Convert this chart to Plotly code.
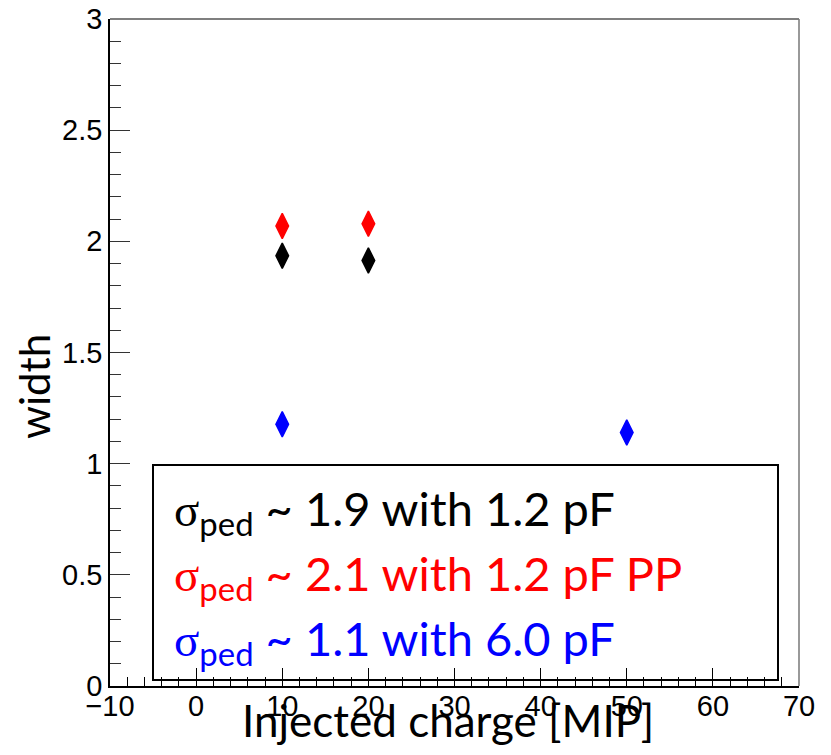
import plotly.graph_objects as go

# ---- data ----
x_black = [10, 20]
y_black = [1.935, 1.914]
x_red = [10, 20]
y_red = [2.069, 2.079]
x_blue = [10, 50]
y_blue = [1.177, 1.140]

series_colors = ["black", "red", "blue"]
legend_values = ["1.9", "2.1", "1.1"]
legend_caps = ["1.2 pF", "1.2 pF PP", "6.0 pF"]

x_title = "Injected charge [MIP]"
y_title = "width"

# page geometry (browser body has an 8px margin on every side)
OFF = 8
PAGE_W, PAGE_H = 831, 755
X0, X1, Y0, Y1 = 110, 799, 19, 686      # plot area in page pixels
W, H = PAGE_W - 2 * OFF, PAGE_H - 2 * OFF
L, T = X0 - OFF, Y0 - OFF
R, B = W - (X1 - OFF), H - (Y1 - OFF)
PW, PH = X1 - X0, Y1 - Y0


def px(xp):
    return (xp - X0) / PW


def py(yp):
    return (Y1 - yp) / PH


fig = go.Figure()
for xs, ys, c in [(x_black, y_black, "black"), (x_red, y_red, "red"), (x_blue, y_blue, "blue")]:
    fig.add_trace(go.Scatter(
        x=xs, y=ys, mode="markers",
        marker=dict(symbol="diamond-tall", size=18, color=c,
                    line=dict(color=c, width=1.5)),
        showlegend=False, hoverinfo="skip"))

TF = "Lato, Calibri, Carlito, 'Open Sans', sans-serif"
NF = "'Liberation Sans Narrow', 'Liberation Sans', Arial, sans-serif"

fig.update_layout(
    width=W, height=H,
    margin=dict(l=L, r=R, t=T, b=B, pad=0, autoexpand=False),
    paper_bgcolor="white", plot_bgcolor="white",
    xaxis=dict(range=[-10, 70], dtick=10, tick0=0, showgrid=False, zeroline=False,
               automargin=False,
               showline=True, linecolor="black", linewidth=2,
               ticks="inside", ticklen=18, tickwidth=1, tickcolor="black",
               minor=dict(dtick=2, ticks="inside", ticklen=9, tickwidth=1,
                          tickcolor="black", showgrid=False),
               ticklabelstandoff=-7, ticklabeloverflow="allow",
               tickfont=dict(family=NF, size=29, color="black")),
    yaxis=dict(range=[0, 3], dtick=0.5, tick0=0, showgrid=False, zeroline=False,
               automargin=False,
               showline=True, linecolor="black", linewidth=1.5,
               ticks="inside", ticklen=20, tickwidth=1, tickcolor="#333",
               minor=dict(dtick=0.1, ticks="inside", ticklen=11, tickwidth=1,
                          tickcolor="#333", showgrid=False),
               ticklabeloverflow="allow",
               tickfont=dict(family=NF, size=29, color="black")),
)

# frame (top and right)
fig.add_shape(type="line", xref="paper", yref="paper", x0=0, x1=1, y0=1, y1=1,
              line=dict(color="black", width=1.2))
fig.add_shape(type="line", xref="paper", yref="paper", x0=1, x1=1, y0=0, y1=1,
              line=dict(color="#777", width=1.5))

# legend box
fig.add_shape(type="rect", xref="paper", yref="paper", layer="below",
              x0=px(153), x1=px(778), y0=py(680), y1=py(465),
              line=dict(color="black", width=2), fillcolor="white")

SIG = "<span style=\"font-family:'Liberation Serif', 'DejaVu Serif', serif\">σ</span>"
line_y = [511, 576, 641]
for c, v, cap, yy in zip(series_colors, legend_values, legend_caps, line_y):
    fig.add_annotation(xref="paper", yref="paper", x=px(172), y=py(yy),
                       xanchor="left", yanchor="middle", showarrow=False,
                       text=f"{SIG}<sub>ped</sub> ~ {v} with {cap}",
                       font=dict(family=TF, size=47, color=c))

fig.add_annotation(xref="paper", yref="paper", x=px(448), y=py(720),
                   xanchor="center", yanchor="middle", showarrow=False,
                   text=x_title, font=dict(family=TF, size=44, color="black"))
fig.add_annotation(xref="paper", yref="paper", x=px(34), y=py(387),
                   xanchor="center", yanchor="middle", showarrow=False, textangle=-90,
                   text=y_title, font=dict(family=TF, size=42, color="black"))

fig.write_html("out.html")
